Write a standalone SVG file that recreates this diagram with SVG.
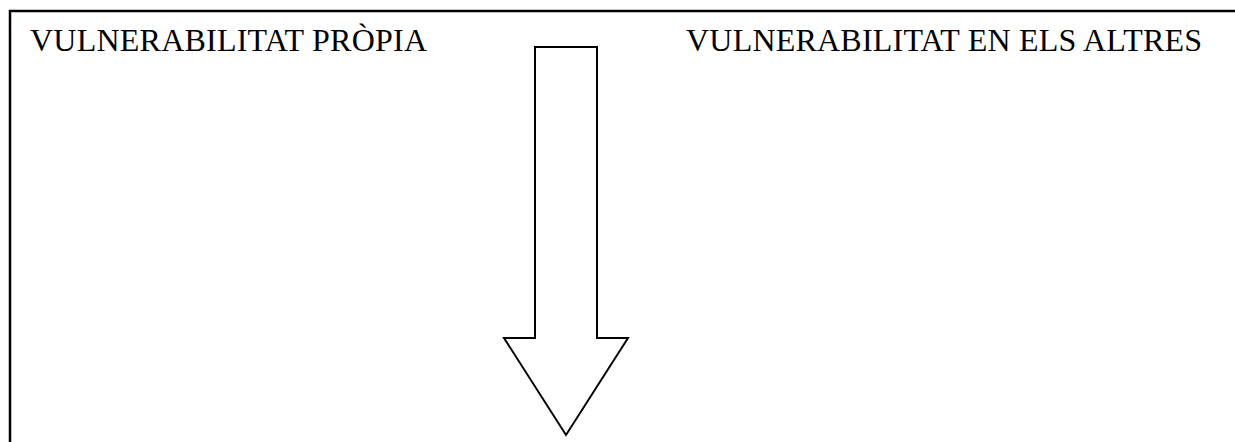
<svg xmlns="http://www.w3.org/2000/svg" width="1235" height="442" viewBox="0 0 1235 442">
<style>
.t{font-family:"Liberation Serif","Times New Roman",serif;font-size:32px;fill:#000}
.s{fill:none;stroke:#000;stroke-width:2.5}
</style>
<rect width="1235" height="442" fill="#fff"/>
<g id="frame">
<path class="s" d="M10,450 V11 H1240"/>
</g>
<g id="left-label"><text class="t" x="30" y="51" textLength="397">VULNERABILITAT PRÒPIA</text></g>
<g id="right-label"><text class="t" x="686" y="51" textLength="516">VULNERABILITAT EN ELS ALTRES</text></g>
<g id="connectors">
<path d="M535,47 H597 V338 H628 L566,435 L504,338 H535 Z" fill="#fff" stroke="#000" stroke-width="2"/>
</g>
</svg>
